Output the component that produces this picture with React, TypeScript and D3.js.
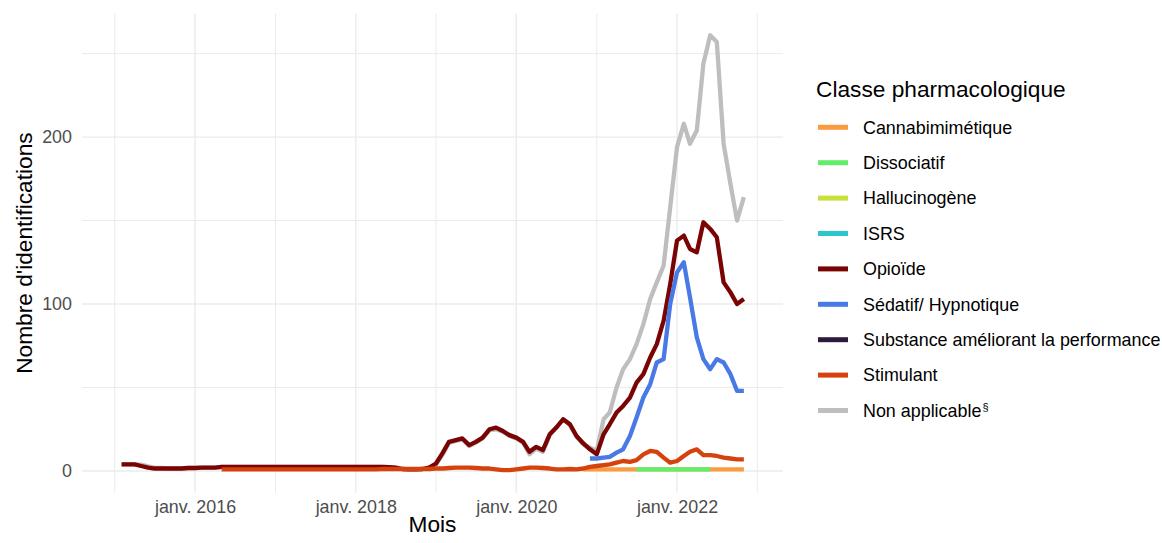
import { useRef, useEffect } from "react";
import * as d3 from "d3";

// Monthly series, each starting at its own month ("%Y-%m")
const categories = [
  "Cannabimimétique",
  "Dissociatif",
  "Hallucinogène",
  "ISRS",
  "Opioïde",
  "Sédatif/ Hypnotique",
  "Substance améliorant la performance",
  "Stimulant",
  "Non applicable",
];

const colors = [
  "#F99B3E",
  "#62EE6B",
  "#C9E03A",
  "#2BC6CE",
  "#7A0403",
  "#4879E6",
  "#2D1B3E",
  "#D5420E",
  "#BEBEBE",
];

const opioideStart = "2015-02";
const opioide = [
  4, 4, 4, 3, 2,
  1.5, 1.5, 1.5, 1.5, 1.5, 1.8, 1.8, 2, 2, 2,
  2.5, 2.5, 2.5, 2.5, 2.5, 2.5, 2.5, 2.5, 2.5, 2.5, 2.5, 2.5, 2.5, 2.5, 2.5, 2.5, 2.5, 2.5, 2.5, 2.5, 2.5, 2.5, 2.5, 2.5, 2.5,
  2.3, 2, 1.2, 1, 1, 1.2, 2,
  4.5, 11, 17.5, 18.5, 19.5, 15.5, 17.5, 20, 25, 26, 24, 21.5, 20, 17.5, 11.5, 14.5, 12.5, 22, 26, 31, 28, 21, 16.5, 13, 10,
  22, 28, 35, 39, 44, 53, 58, 68, 76, 90, 112, 138, 141, 133, 131, 149, 145, 140, 113, 107, 100, 103,
];

const nonApplicableStart = "2015-02";
const nonApplicable = [
  4, 4, 4, 3.8, 2.8,
  2, 1.8, 1.5, 1.5, 1.5, 1.8, 1.8, 2, 2, 2,
  2.5, 2.5, 2.5, 2.5, 2.5, 2.5, 2.5, 2.5, 2.5, 2.5, 2.5, 2.5, 2.5, 2.5, 2.5, 2.5, 2.5, 2.5, 2.5, 2.5, 2.5, 2.5, 2.5, 2.5, 2.5,
  2.3, 2, 1.2, 1, 1, 1.2, 2,
  4, 10, 17, 18, 19, 15, 17, 19.5, 24.5, 25, 23.5, 21, 19.5, 17, 10, 13.5, 11.5, 21.5, 26, 31, 27.5, 20.5, 16, 14, 12,
  31, 35, 50, 61, 67, 76, 88, 103, 113, 123, 158, 194, 208, 196, 204, 244, 261, 257, 196, 172, 150, 164,
];

const sedatifStart = "2020-12";
const sedatif = [
  7.5, 7.5, 8, 8.5, 11, 13, 21, 32, 44, 52, 65, 67, 100, 119, 125, 104, 80, 67, 61, 67, 65, 58, 48, 48,
];

const stimulantStart = "2016-05";
const stimulant = [
  1, 1, 1, 1, 1, 1, 1, 1, 1, 1, 1, 1, 1, 1, 1, 1, 1, 1, 1, 1, 1, 1, 1, 1, 1.2, 1.2, 1.2, 1.2, 1.2, 1.2, 1.2, 1.2,
  1.5, 1.5, 1.8, 2, 2, 2, 1.8, 1.5, 1.5, 1, 0.5, 0.5, 1, 1.5, 2, 2, 1.8, 1.5, 1, 1, 1.2,
  1, 1.5, 2.5, 3, 3.5, 4, 5, 6, 5.5, 6.5, 10, 12, 11.5, 8, 5, 6, 9, 11.5, 13, 9.5, 9.5, 9, 8, 7.5, 7, 7,
];

const cannabiStart = "2020-11";
const cannabi = [
  1, 1, 1, 1, 1, 1, 1, 1, 1, 1, 1, 1, 1, 1, 1, 1, 1, 1, 1, 1, 1, 1, 1, 1, 1,
];

const dissociatifStart = "2021-07";
const dissociatif = [1, 1, 1, 1, 1, 1, 1, 1, 1, 1, 1, 1];

const hallucinogeneStart = "2021-01";
const hallucinogene: number[] = [];
const isrsStart = "2021-01";
const isrs: number[] = [];
const substanceStart = "2021-01";
const substance: number[] = [];

const yTicksMajor = [0, 100, 200];
const yTicksMinor = [50, 150, 250];
const xTicksMajor = ["2016-01", "2018-01", "2020-01", "2022-01"];
const xTicksMinor = ["2015-01", "2017-01", "2019-01", "2021-01", "2023-01"];
const xTickLabels = ["janv. 2016", "janv. 2018", "janv. 2020", "janv. 2022"];

const W = 1162;
const H = 543;
const PANEL = { left: 82, right: 783, top: 13.4, bottom: 492.8 };
const FONT = "'Liberation Sans', Arial, sans-serif";

const parse = d3.timeParse("%Y-%m")!;

function toPoints(start: string, values: number[]) {
  const s = parse(start)!;
  return values.map((v, i) => ({ date: d3.timeMonth.offset(s, i), value: v }));
}

// draw order: grey first, then the classes in legend order
const series = [
  { name: "Non applicable", pts: toPoints(nonApplicableStart, nonApplicable) },
  { name: "Cannabimimétique", pts: toPoints(cannabiStart, cannabi) },
  { name: "Dissociatif", pts: toPoints(dissociatifStart, dissociatif) },
  { name: "Hallucinogène", pts: toPoints(hallucinogeneStart, hallucinogene) },
  { name: "ISRS", pts: toPoints(isrsStart, isrs) },
  { name: "Opioïde", pts: toPoints(opioideStart, opioide) },
  { name: "Sédatif/ Hypnotique", pts: toPoints(sedatifStart, sedatif) },
  { name: "Substance améliorant la performance", pts: toPoints(substanceStart, substance) },
  { name: "Stimulant", pts: toPoints(stimulantStart, stimulant) },
];

export default function App() {
  const svgRef = useRef<SVGSVGElement>(null);

  useEffect(() => {
    if (!svgRef.current) return;
    const svg = d3.select(svgRef.current);
    svg.selectAll("*").remove();

    const color = d3.scaleOrdinal<string, string>().domain(categories).range(colors);

    const x = d3
      .scaleTime()
      .domain([new Date(2014, 7, 5), new Date(2023, 3, 28)])
      .range([PANEL.left, PANEL.right]);
    const y = d3
      .scaleLinear()
      .domain([-13.05, 274.1])
      .range([PANEL.bottom, PANEL.top]);

    svg.append("rect").attr("width", W).attr("height", H).attr("fill", "#fff");

    // gridlines
    const grid = svg.append("g");
    const hLines = [
      ...yTicksMinor.map((v) => ({ v, w: 1 })),
      ...yTicksMajor.map((v) => ({ v, w: 1.4 })),
    ];
    grid
      .selectAll("line.h")
      .data(hLines)
      .join("line")
      .attr("x1", PANEL.left)
      .attr("x2", PANEL.right)
      .attr("y1", (d) => y(d.v))
      .attr("y2", (d) => y(d.v))
      .attr("stroke", "#EBEBEB")
      .attr("stroke-width", (d) => d.w);
    const vLines = [
      ...xTicksMinor.map((s) => ({ d: parse(s)!, w: 1 })),
      ...xTicksMajor.map((s) => ({ d: parse(s)!, w: 1.4 })),
    ];
    grid
      .selectAll("line.v")
      .data(vLines)
      .join("line")
      .attr("x1", (d) => x(d.d))
      .attr("x2", (d) => x(d.d))
      .attr("y1", PANEL.top)
      .attr("y2", PANEL.bottom)
      .attr("stroke", "#EBEBEB")
      .attr("stroke-width", (d) => d.w);

    // lines
    const line = d3
      .line<{ date: Date; value: number }>()
      .x((d) => x(d.date))
      .y((d) => y(d.value));
    svg
      .append("g")
      .selectAll("path")
      .data(series.filter((s) => s.pts.length > 1))
      .join("path")
      .attr("d", (s) => line(s.pts))
      .attr("fill", "none")
      .attr("stroke", (s) => color(s.name))
      .attr("stroke-width", 4.3)
      .attr("stroke-linejoin", "round");

    // axes
    const xAxis = d3
      .axisBottom(x)
      .tickValues(xTicksMajor.map((s) => parse(s)!))
      .tickFormat((_, i) => xTickLabels[i])
      .tickSize(0)
      .tickPadding(0);
    const xg = svg.append("g").attr("transform", `translate(0,${PANEL.bottom})`).call(xAxis);
    xg.select(".domain").remove();
    xg.selectAll("text")
      .attr("y", 7)
      .attr("dy", "0.71em")
      .attr("fill", "#4D4D4D")
      .attr("font-size", "17.9px")
      .attr("font-family", FONT);

    const yAxis = d3.axisLeft(y).tickValues(yTicksMajor).tickSize(0).tickPadding(0);
    const yg = svg.append("g").attr("transform", `translate(${PANEL.left - 10},0)`).call(yAxis);
    yg.select(".domain").remove();
    yg.selectAll("text")
      .attr("x", 0)
      .attr("fill", "#4D4D4D")
      .attr("font-size", "17.9px")
      .attr("font-family", FONT);

    // axis titles
    svg
      .append("text")
      .attr("x", (PANEL.left + PANEL.right) / 2)
      .attr("y", 532)
      .attr("text-anchor", "middle")
      .attr("font-size", "22.7px")
      .attr("font-family", FONT)
      .attr("fill", "#000")
      .text("Mois");
    svg
      .append("text")
      .attr("transform", `translate(32,${(PANEL.top + PANEL.bottom) / 2}) rotate(-90)`)
      .attr("text-anchor", "middle")
      .attr("font-size", "22.7px")
      .attr("font-family", FONT)
      .attr("fill", "#000")
      .text("Nombre d'identifications");

    // legend
    const lg = svg.append("g").attr("transform", "translate(816,0)");
    lg.append("text")
      .attr("x", 0)
      .attr("y", 97)
      .attr("font-size", "22.7px")
      .attr("font-family", FONT)
      .attr("fill", "#000")
      .text("Classe pharmacologique");
    const item = lg
      .selectAll("g.item")
      .data(categories)
      .join("g")
      .attr("transform", (_, i) => `translate(0,${127.3 + i * 35.4})`);
    item
      .append("line")
      .attr("x1", 2)
      .attr("x2", 32)
      .attr("stroke", (d) => color(d))
      .attr("stroke-width", 5);
    const label = item
      .append("text")
      .attr("x", 47)
      .attr("dy", "0.35em")
      .attr("font-size", "17.9px")
      .attr("font-family", FONT)
      .attr("fill", "#000");
    label.append("tspan").text((d) => d);
    label
      .filter((d) => d === "Non applicable")
      .append("tspan")
      .attr("dy", "-0.55em")
      .attr("dx", "1")
      .attr("font-size", "11px")
      .text("§");
  }, []);

  return (
    <svg
      ref={svgRef}
      width={W}
      height={H}
      style={{ position: "absolute", left: 0, top: 0 }}
    />
  );
}
